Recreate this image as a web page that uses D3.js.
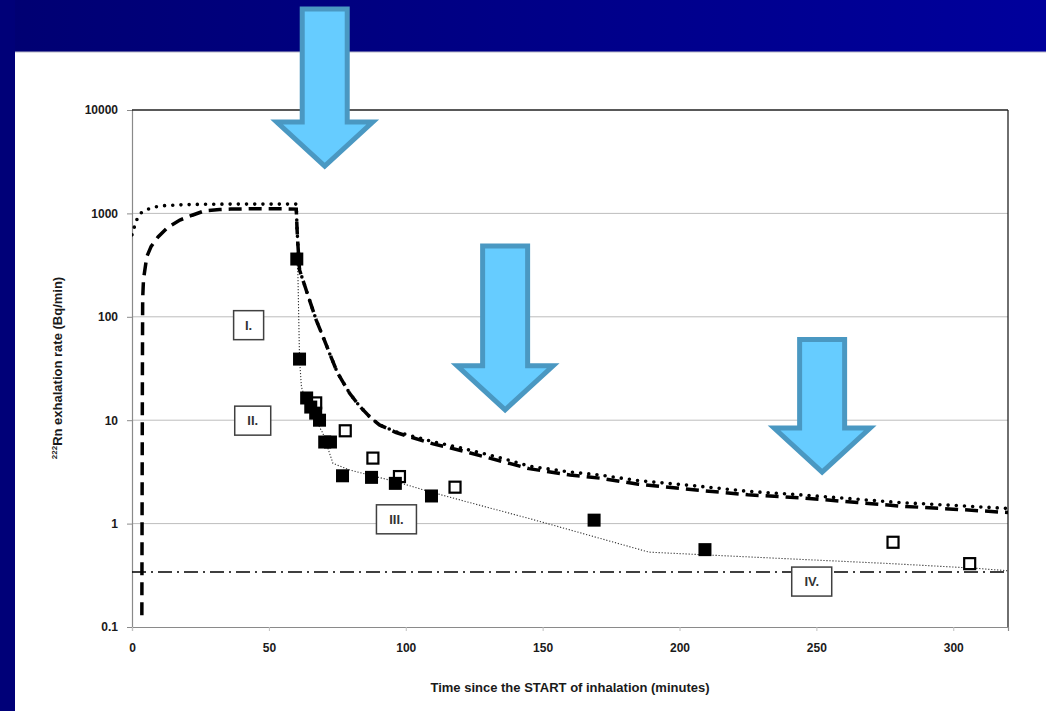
<!DOCTYPE html>
<html><head><meta charset="utf-8">
<script src="https://cdn.jsdelivr.net/npm/d3@7"></script>
<style>
html,body{margin:0;padding:0;background:#fff;}
svg{display:block;}
text{font-family:"Liberation Sans Narrow","Arial Narrow","Liberation Sans",sans-serif;font-weight:bold;}
</style></head>
<body>
<svg id="chart" width="1046" height="711"></svg>
<script>
// ---- data ----
const xTicks = [0, 50, 100, 150, 200, 250, 300];
const yTicks = [0.1, 1, 10, 100, 1000, 10000];
const yTickLabels = ["0.1", "1", "10", "100", "1000", "10000"];

// model curve (dotted, round dots)
const dotT = [0,0.5,1,2,3,5,8,12,18,25,35,45,55,60,60.3,60.6,61.2,63,65,67.3,70,72.2,75,79.5,83,86.8,90.4,96.5,100,110,120,135,145,160,171,185,207,225,245,265,280,300,320];
const dotV = [620,650,780,900,1000,1080,1150,1190,1210,1225,1230,1230,1230,1230,700,500,284,204,141,93,62,44,29,18.2,13.8,10.8,9.0,7.7,7.3,6.2,5.4,4.3,3.6,3.15,2.95,2.6,2.3,2.05,1.89,1.72,1.6,1.5,1.4];

// model curve (long dashes)
const dashT = [3.6,3.7,3.8,3.9,4.2,5.4,7,9.6,13,17.5,22,26.6,32,36,45,55,60,60.3,60.6,61.2,63,65,67.3,70,72.2,75,79.5,83,86.8,90.4,96.5,100,110,120,135,145,160,171,185,207,225,245,265,280,300,320];
const dashV = [0.13,2,30,150,230,382,480,596,730,863,960,1062,1090,1100,1110,1110,1100,700,500,284,204,141,93,62,44,29,18.2,13.8,10.8,9.0,7.6,7.1,5.9,5.1,4.0,3.4,2.95,2.75,2.4,2.1,1.9,1.77,1.6,1.48,1.38,1.28];

// fitted thin dotted line
const fitT = [60.2,60.6,61.2,61.9,63.7,69.7,73.4,79.5,89.2,96.5,108.6,124.4,145.1,156,188.8,208.3,277.4,308,320];
const fitV = [362,264,39,21,14.7,7.5,3.83,3.3,2.84,2.54,2.04,1.57,1.12,0.93,0.53,0.5,0.41,0.37,0.35];

// measured points
const filledT = [60.2,61.2,63.8,65.3,67.1,68.5,70.4,72.5,76.9,87.5,96.2,109.4,168.8,209.3];
const filledV = [362,39,16.4,13.4,11.7,10,6.15,6.15,2.9,2.8,2.45,1.85,1.08,0.56];
const openT = [67.1,77.9,88,97.7,118,278,306];
const openV = [14.7,7.9,4.3,2.85,2.25,0.66,0.41];

// background level
const levelIV = 0.34;

// labels
const boxLabels = ["I.", "II.", "III.", "IV."];
const boxT = [42.6, 44.1, 96.6, 248.3];
const boxV = [83, 9.9, 1.1, 0.275];
const boxW = [30, 36, 40, 40];

// arrows (tip position in data units, top in data units)
const arrowT = [70.4, 136.3, 252.1];
const arrowTipV = [2870, 12.6, 3.15];
const arrowTopV = [95000, 484, 60.3];

// ---- drawing ----
const svg = d3.select("#chart");
const W = 1046, H = 711;

// background
const defs = svg.append("defs");
const grad = defs.append("linearGradient").attr("id","topg").attr("x1","0").attr("x2","1").attr("y1","0").attr("y2","0");
grad.append("stop").attr("offset","0").attr("stop-color","#000072");
grad.append("stop").attr("offset","1").attr("stop-color","#00009C");
svg.append("rect").attr("x",0).attr("y",0).attr("width",W).attr("height",H).attr("fill","#fff");
svg.append("rect").attr("x",0).attr("y",0).attr("width",W).attr("height",52).attr("fill","url(#topg)");
svg.append("rect").attr("x",0).attr("y",0).attr("width",15).attr("height",H).attr("fill","#000078");
svg.append("line").attr("x1",15).attr("x2",W).attr("y1",52).attr("y2",52).attr("stroke","#b8b8c8").attr("stroke-width",1);

const x = d3.scaleLinear().domain([0,320]).range([132,1008]);
const y = d3.scaleLog().domain([0.1,10000]).range([627,110]);

// gridlines
svg.append("g").selectAll("line").data(yTicks.slice(1,-1)).join("line")
  .attr("x1",x(0)).attr("x2",x(320)).attr("y1",d=>y(d)).attr("y2",d=>y(d))
  .attr("stroke","#bdbdbd").attr("stroke-width",1);

// axes
const yAxis = d3.axisLeft(y).tickValues(yTicks).tickFormat((d,i)=>yTickLabels[i]).tickSize(5).tickPadding(9);
const gy = svg.append("g").attr("transform",`translate(${x(0)},0)`).call(yAxis);
gy.select(".domain").attr("stroke","#8a8a8a").attr("stroke-width",1.2);
gy.selectAll(".tick line").attr("stroke","#8a8a8a");
gy.selectAll(".tick text").attr("font-size",12).attr("fill","#1a1a1a").style("font-family",'"Liberation Sans Narrow","Arial Narrow","Liberation Sans",sans-serif').style("font-weight","bold");

const xAxis = d3.axisBottom(x).tickValues(xTicks).tickFormat(d3.format("d")).tickSize(4).tickPadding(12);
const gx = svg.append("g").attr("transform",`translate(0,${y(0.1)})`).call(xAxis);
gx.select(".domain").attr("stroke","#8a8a8a").attr("stroke-width",1.2);
gx.selectAll(".tick line").attr("stroke","#c0c0c0");
gx.selectAll(".tick text").attr("font-size",12).attr("fill","#1a1a1a").style("font-family",'"Liberation Sans Narrow","Arial Narrow","Liberation Sans",sans-serif').style("font-weight","bold");

// top & right border
svg.append("line").attr("x1",x(0)).attr("x2",x(320)).attr("y1",y(10000)).attr("y2",y(10000)).attr("stroke","#222").attr("stroke-width",1.3);
svg.append("line").attr("x1",x(320)).attr("x2",x(320)).attr("y1",y(10000)).attr("y2",y(0.1)).attr("stroke","#222").attr("stroke-width",1.3);

// axis titles
svg.append("text").attr("x",(x(0)+x(320))/2).attr("y",692).attr("text-anchor","middle")
  .attr("font-size",13).attr("fill","#1a1a1a").text("Time since the START of inhalation (minutes)");
const yt = svg.append("text").attr("transform",`translate(62,${368}) rotate(-90)`).attr("text-anchor","middle")
  .attr("font-size",13).attr("fill","#1a1a1a");
yt.append("tspan").attr("font-size",8).attr("dy",-5).text("222");
yt.append("tspan").attr("dy",5).text("Rn exhalation rate (Bq/min)");

// clip
defs.append("clipPath").attr("id","plotclip").append("rect")
  .attr("x",x(0)).attr("y",y(10000)-2).attr("width",x(320)-x(0)).attr("height",y(0.1)-y(10000)+2);

const plot = svg.append("g").attr("clip-path","url(#plotclip)");

// background level IV
plot.append("line").attr("x1",x(0)).attr("x2",x(320)).attr("y1",y(levelIV)).attr("y2",y(levelIV))
  .attr("stroke","#000").attr("stroke-width",1.4).attr("stroke-dasharray","14 5 2 5");

const line = d3.line().x(d=>x(d[0])).y(d=>y(d[1]));

// fitted thin dotted line
plot.append("path").datum(fitT.map((t,i)=>[t,fitV[i]])).attr("d",line)
  .attr("fill","none").attr("stroke","#333").attr("stroke-width",1.1).attr("stroke-dasharray","1.2 1.8");

// dashed model
plot.append("path").datum(dashT.map((t,i)=>[t,dashV[i]])).attr("d",line)
  .attr("fill","none").attr("stroke","#000").attr("stroke-width",3.5).attr("stroke-dasharray","13 7");

// dotted model
plot.append("path").datum(dotT.map((t,i)=>[t,dotV[i]])).attr("d",line)
  .attr("fill","none").attr("stroke","#000").attr("stroke-width",3.6).attr("stroke-linecap","round").attr("stroke-dasharray","0 8.2");

// open squares
plot.append("g").selectAll("rect").data(openT.map((t,i)=>[t,openV[i]])).join("rect")
  .attr("x",d=>x(d[0])-5.5).attr("y",d=>y(d[1])-5.5).attr("width",11).attr("height",11)
  .attr("fill","#fff").attr("stroke","#000").attr("stroke-width",2.2);

// filled squares
plot.append("g").selectAll("rect").data(filledT.map((t,i)=>[t,filledV[i]])).join("rect")
  .attr("x",d=>x(d[0])-6.5).attr("y",d=>y(d[1])-6.5).attr("width",13).attr("height",13)
  .attr("fill","#000");

// label boxes
const lb = svg.append("g").selectAll("g").data(boxLabels).join("g")
  .attr("transform",(d,i)=>`translate(${x(boxT[i])},${y(boxV[i])})`);
lb.append("rect").attr("x",(d,i)=>-boxW[i]/2).attr("y",-14.5).attr("width",(d,i)=>boxW[i]).attr("height",29)
  .attr("fill","#fff").attr("stroke","#404040").attr("stroke-width",1.5);
lb.append("text").attr("text-anchor","middle").attr("dy","0.36em").attr("font-size",13).attr("fill","#333").text(d=>d);

// arrows
const shaftW = 45, headW = 96, headH = 44;
const ag = svg.append("g").selectAll("path").data(arrowT).join("path")
  .attr("d",(t,i)=>{
    const cx = x(t), tip = y(arrowTipV[i]), top = y(arrowTopV[i]);
    const hy = tip - headH;
    const p = d3.path();
    p.moveTo(cx-shaftW/2, top);
    p.lineTo(cx+shaftW/2, top);
    p.lineTo(cx+shaftW/2, hy);
    p.lineTo(cx+headW/2, hy);
    p.lineTo(cx, tip);
    p.lineTo(cx-headW/2, hy);
    p.lineTo(cx-shaftW/2, hy);
    p.closePath();
    return p.toString();
  })
  .attr("fill","#66CCFF").attr("stroke","#4A98C2").attr("stroke-width",5).attr("stroke-linejoin","miter");
</script>
</body></html>
